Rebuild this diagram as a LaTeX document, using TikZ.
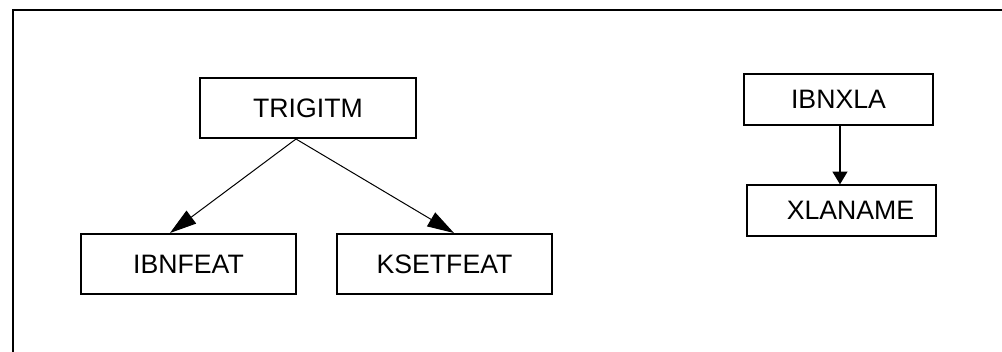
\documentclass[tikz,border=0pt]{standalone}
\usepackage{fontspec}
\setmainfont{Liberation Sans}
\usetikzlibrary{arrows.meta}
\begin{document}
\begin{tikzpicture}[x=0.75pt,y=-0.75pt,
  boxthick/.style={draw, line width=1.5pt, rectangle, inner sep=0pt, font=\fontsize{20}{24}\selectfont},
  boxthin/.style={draw, line width=0.9pt, rectangle, inner sep=0pt, font=\fontsize{20}{24}\selectfont},
  thinarrow/.style={line width=0.75pt, -{Triangle[length=20pt,width=12pt]}},
  thickarrow/.style={line width=1.3pt, -{Triangle[length=9.5pt,width=11pt]}}]
\useasboundingbox (0,0) rectangle (1002,351);
\clip (0,0) rectangle (1002,351);
\draw[line width=1.6pt] (13,10) rectangle (1020,370);
\node[boxthick, minimum width=216*0.75pt, minimum height=60*0.75pt] (trig) at (308,108) {TRIGITM};
\node[boxthick, minimum width=215*0.75pt, minimum height=60*0.75pt] (ibnf) at (188.5,264) {IBNFEAT};
\node[boxthick, minimum width=215*0.75pt, minimum height=60*0.75pt] (kset) at (444.5,264) {KSETFEAT};
\node[boxthin, minimum width=189*0.75pt, minimum height=51*0.75pt] (ibnx) at (838.5,99.5) {IBNXLA};
\node[boxthin, minimum width=189*0.75pt, minimum height=51*0.75pt] (xlan) at (841.5,210.5) {\hspace*{13.5pt}XLANAME};
\draw[thinarrow] ([xshift=-9pt]trig.south) -- ([xshift=-13.9pt]ibnf.north);
\draw[thinarrow] ([xshift=-9pt]trig.south) -- ([xshift=7.1pt]kset.north);
\draw[thickarrow] ([xshift=1.1pt]ibnx.south) -- ([xshift=1.1pt]ibnx.south |- xlan.north);
\end{tikzpicture}
\end{document}
